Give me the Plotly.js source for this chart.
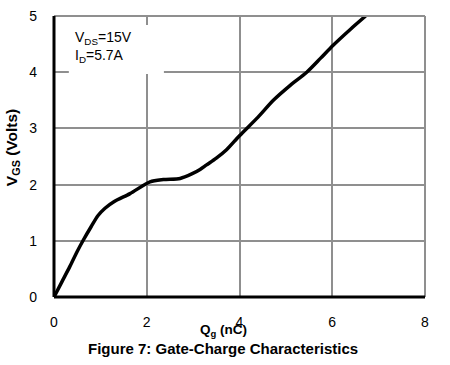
<!DOCTYPE html>
<html>
<head>
<meta charset="utf-8">
<script src="https://cdn.plot.ly/plotly-3.0.1.min.js"></script>
<style>html,body{margin:0;padding:0;background:#fff;}#chart{width:450px;height:365px;}</style>
</head>
<body>
<div id="chart"></div>
<script>
const qg = [0, 0.17, 0.34, 0.5, 0.63, 0.8, 0.95, 1.1, 1.3, 1.64, 2.07, 2.36, 2.72, 2.97, 3.15, 3.29, 3.5, 3.72, 4.0, 4.4, 4.73, 5.1, 5.45, 5.75, 6.02, 6.4, 6.72];
const vgs = [0, 0.27, 0.54, 0.81, 1.01, 1.25, 1.45, 1.58, 1.7, 1.84, 2.05, 2.09, 2.11, 2.19, 2.27, 2.35, 2.47, 2.62, 2.87, 3.2, 3.5, 3.77, 4.0, 4.25, 4.48, 4.77, 5.0];
const xTicks = [0, 2, 4, 6, 8];
const yTicks = [0, 1, 2, 3, 4, 5];
const conditionText = "V<sub>DS</sub>=15V<br>I<sub>D</sub>=5.7A";
const xTitle = "<b>Q<sub>g</sub> (nC)</b>";
const yTitle = "<b>V<sub>GS</sub> (Volts)</b>";
const figTitle = "<b>Figure 7: Gate-Charge Characteristics</b>";

const font = "Liberation Sans, Arial, sans-serif";
const grid = "#8f8f8f";
const trace = {
  x: qg, y: vgs, mode: "lines", type: "scatter",
  line: {color: "#000", width: 3.5, shape: "spline", smoothing: 0.8},
  hoverinfo: "skip", showlegend: false
};
const layout = {
  width: 450, height: 365,
  margin: {l: 54, r: 25, t: 16, b: 68},
  paper_bgcolor: "#fff", plot_bgcolor: "#fff",
  font: {family: font, size: 14, color: "#000"},
  xaxis: {
    range: [0, 8], tickvals: xTicks, ticktext: xTicks.map(String),
    showgrid: true, gridcolor: grid, gridwidth: 2,
    zeroline: false, showline: false, ticks: "", ticklabelstandoff: 15,
    tickfont: {family: font, size: 14, color: "#000"},
    fixedrange: true
  },
  yaxis: {
    range: [0, 5], tickvals: yTicks, ticktext: yTicks.map(String),
    showgrid: true, gridcolor: grid, gridwidth: 2,
    zeroline: false, showline: false, ticks: "", ticklabelstandoff: 16,
    tickfont: {family: font, size: 14, color: "#000"},
    fixedrange: true
  },
  shapes: [
    {type: "rect", xref: "x", yref: "y", x0: 0.32, x1: 2.37, y0: 3.97, y1: 4.84, fillcolor: "#fff", line: {width: 0}, layer: "between"},
    {type: "line", xref: "paper", yref: "paper", x0: 0, x1: 1, y0: 1, y1: 1, line: {color: grid, width: 2}},
    {type: "line", xref: "paper", yref: "paper", x0: 1, x1: 1, y0: 0, y1: 1, line: {color: grid, width: 2}},
    {type: "line", xref: "paper", yref: "paper", x0: 0, x1: 0, y0: 0, y1: 1, line: {color: "#000", width: 3}},
    {type: "line", xref: "paper", yref: "paper", x0: 0, x1: 1, y0: 0, y1: 0, line: {color: "#000", width: 3}}
  ],
  annotations: [
    {
      text: conditionText, xref: "x", yref: "y", x: 0.41, y: 4.8,
      xanchor: "left", yanchor: "top", align: "left", showarrow: false,
      font: {family: font, size: 14, color: "#000"}
    },
    {
      text: xTitle, xref: "paper", yref: "paper", x: 0.458, y: 0, yshift: -33,
      xanchor: "center", yanchor: "middle", showarrow: false,
      font: {family: font, size: 13.5, color: "#000"}
    },
    {
      text: yTitle, xref: "paper", yref: "paper", x: -0.113, y: 0.53,
      xanchor: "center", yanchor: "middle", showarrow: false, textangle: -90,
      font: {family: font, size: 15.5, color: "#000"}
    },
    {
      text: figTitle, xref: "paper", yref: "paper",
      x: 0.455, y: 0, yshift: -51.5, xanchor: "center", yanchor: "middle", showarrow: false,
      font: {family: font, size: 15, color: "#000"}
    }
  ]
};
Plotly.newPlot("chart", [trace], layout, {displayModeBar: false, staticPlot: true});
</script>
</body>
</html>
